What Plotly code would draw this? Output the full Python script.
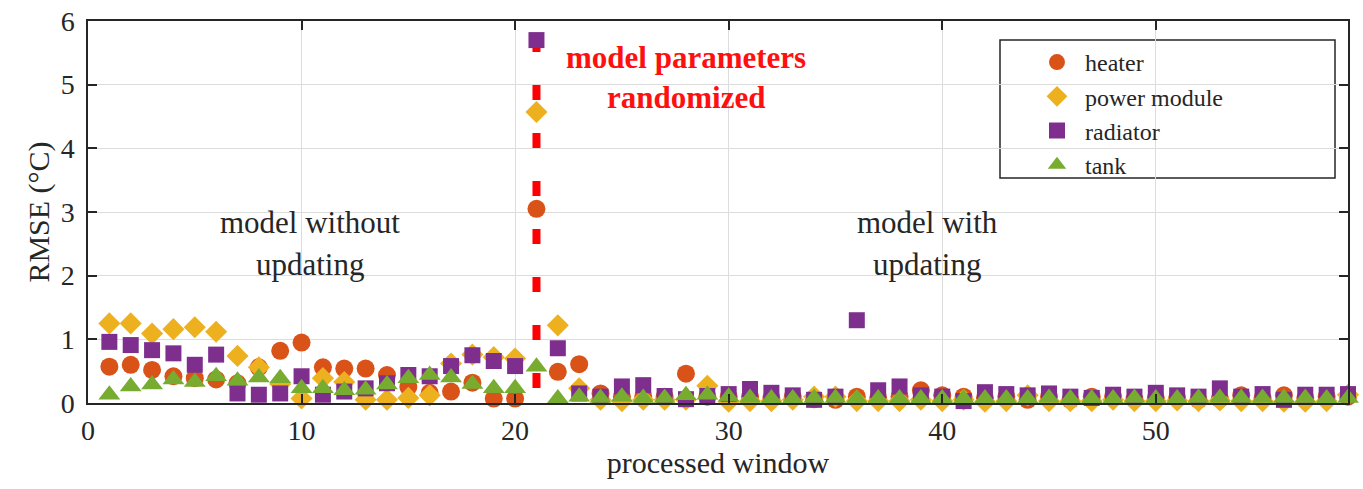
import plotly.graph_objects as go

# processed window index
window = list(range(1, 60))

heater = [0.57, 0.60, 0.52, 0.42, 0.39, 0.37, 0.31, 0.56, 0.82, 0.95,
          0.56, 0.54, 0.54, 0.44, 0.25, 0.16, 0.18, 0.32, 0.07, 0.07,
          3.05, 0.49, 0.61, 0.15, 0.10, 0.10, 0.10, 0.46, 0.10, 0.10,
          0.10, 0.08, 0.10, 0.06, 0.05, 0.10, 0.08, 0.10, 0.20, 0.12,
          0.10, 0.08, 0.10, 0.05, 0.10, 0.05, 0.10, 0.10, 0.06, 0.08,
          0.08, 0.05, 0.06, 0.12, 0.08, 0.12, 0.08, 0.10, 0.10]

power_module = [1.25, 1.25, 1.09, 1.16, 1.19, 1.12, 0.74, 0.56, 0.30, 0.07,
                0.39, 0.33, 0.05, 0.05, 0.08, 0.12, 0.62, 0.76, 0.72, 0.70,
                4.57, 1.22, 0.23, 0.05, 0.03, 0.05, 0.05, 0.05, 0.27, 0.02,
                0.03, 0.03, 0.05, 0.10, 0.10, 0.03, 0.03, 0.03, 0.05, 0.03,
                0.05, 0.02, 0.03, 0.12, 0.03, 0.03, 0.03, 0.05, 0.03, 0.03,
                0.04, 0.03, 0.04, 0.03, 0.03, 0.02, 0.02, 0.03, 0.13]

radiator = [0.96, 0.91, 0.83, 0.78, 0.60, 0.76, 0.15, 0.13, 0.15, 0.42,
            0.13, 0.18, 0.23, 0.31, 0.44, 0.42, 0.58, 0.75, 0.66, 0.58,
            5.70, 0.86, 0.15, 0.10, 0.26, 0.28, 0.11, 0.06, 0.11, 0.14,
            0.22, 0.16, 0.12, 0.05, 0.10, 1.30, 0.20, 0.26, 0.12, 0.10,
            0.03, 0.17, 0.14, 0.12, 0.15, 0.10, 0.08, 0.13, 0.10, 0.16,
            0.12, 0.10, 0.23, 0.10, 0.14, 0.05, 0.13, 0.13, 0.14]

tank = [0.13, 0.26, 0.29, 0.37, 0.33, 0.42, 0.35, 0.40, 0.39, 0.23,
        0.23, 0.20, 0.21, 0.29, 0.39, 0.44, 0.40, 0.30, 0.23, 0.23,
        0.57, 0.07, 0.10, 0.08, 0.10, 0.08, 0.08, 0.12, 0.13, 0.10,
        0.08, 0.07, 0.07, 0.08, 0.08, 0.07, 0.07, 0.07, 0.07, 0.07,
        0.07, 0.07, 0.07, 0.07, 0.08, 0.07, 0.07, 0.07, 0.08, 0.07,
        0.07, 0.08, 0.08, 0.08, 0.08, 0.08, 0.08, 0.07, 0.08]

# window at which the model parameters were randomized
reset_window = 21
reset_line_top = 5.75

x_ticks = [0, 10, 20, 30, 40, 50]
y_ticks = [0, 1, 2, 3, 4, 5, 6]

FONT = "Liberation Serif, Times New Roman, serif"
TXT = "#262626"

series = [
    ("heater", heater, "circle", 18, "#D95319"),
    ("power module", power_module, "diamond", 17, "#EDB120"),
    ("radiator", radiator, "square", 16, "#7E2F8E"),
    ("tank", tank, "triangle-up", 19, "#77AC30"),
]

fig = go.Figure()

# dashed marker of the parameter reset
fig.add_trace(go.Scatter(
    x=[reset_window, reset_window], y=[reset_line_top, 0],
    mode="lines", line=dict(color="#FF0000", width=8, dash="15px,33px"),
    showlegend=False, hoverinfo="skip", cliponaxis=False,
))

for name, vals, sym, size, col in series:
    fig.add_trace(go.Scatter(
        x=window, y=vals, mode="markers", name=name,
        marker=dict(symbol=sym, size=size, color=col, line=dict(width=0)),
        cliponaxis=False,
    ))

axis_common = dict(
    showline=True, linecolor=TXT, linewidth=1.5, mirror="ticks",
    ticks="inside", ticklen=9, tickwidth=1.5, tickcolor=TXT,
    showgrid=True, gridcolor="#DCDCDC", gridwidth=1, zeroline=False,
    tickfont=dict(family=FONT, size=28, color=TXT), automargin=False,
)

fig.update_xaxes(
    range=[0, 59], tickvals=x_ticks, ticklabelstandoff=2,
    title=dict(text="processed window", font=dict(family=FONT, size=30, color=TXT),
               standoff=2),
    **axis_common,
)
fig.update_yaxes(
    range=[0, 6], tickvals=y_ticks, ticklabelstandoff=6,
    title=dict(text="RMSE (°C)", font=dict(family=FONT, size=30, color=TXT),
               standoff=2),
    **axis_common,
)

ann_font = dict(family=FONT, size=31, color=TXT)
red_font = dict(family=FONT, size=31, color="#FF1010")
notes = [
    ("model without", 10.4, 2.84, ann_font),
    ("updating", 10.4, 2.17, ann_font),
    ("model with", 39.3, 2.84, ann_font),
    ("updating", 39.3, 2.17, ann_font),
    ("<b>model parameters</b>", 28.0, 5.43, red_font),
    ("<b>randomized</b>", 28.0, 4.80, red_font),
]
for text, xx, yy, f in notes:
    fig.add_annotation(x=xx, y=yy, text=text, showarrow=False, font=f,
                       xanchor="center", yanchor="middle")

# legend frame
fig.add_shape(type="rect", xref="paper", yref="paper",
              x0=(1000 - 88) / 1260, x1=(1335 - 88) / 1260,
              y0=(403 - 178) / 382, y1=(403 - 40) / 382,
              line=dict(color=TXT, width=1.5), fillcolor="white", layer="below")

fig.update_layout(
    width=1363, height=489,
    margin=dict(l=88, r=15, t=21, b=86),
    paper_bgcolor="white", plot_bgcolor="white",
    legend=dict(
        x=(1029 - 88) / 1260, y=(403 - 40) / 382, xanchor="left", yanchor="top",
        bgcolor="rgba(0,0,0,0)", borderwidth=0, itemwidth=46,
        font=dict(family=FONT, size=24, color=TXT), tracegroupgap=0,
    ),
)

fig.write_html("out.html")
